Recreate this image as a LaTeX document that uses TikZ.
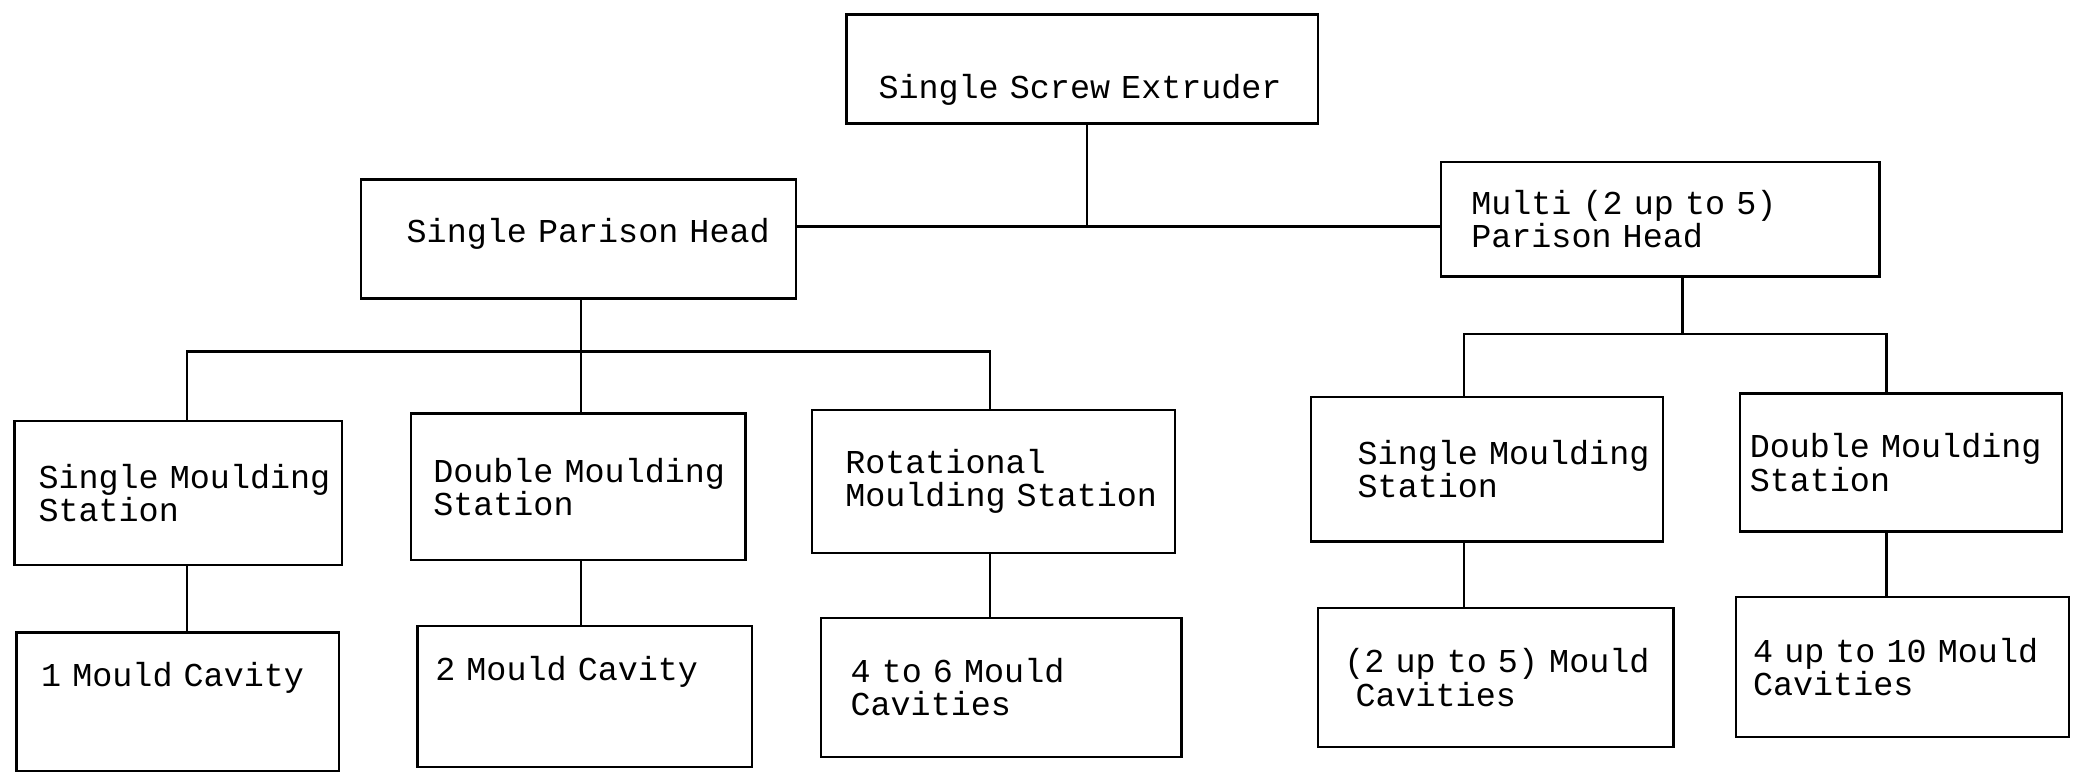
\documentclass[tikz,border=0pt]{standalone}
\usepackage{fontspec}
\newfontfamily\typewriter[HyphenChar=None]{Liberation Mono}
\newcommand\printerfont{\typewriter\fontsize{14.3pt}{14.2pt}\selectfont}

\begin{document}
\begin{tikzpicture}[line width=1pt, box/.style={draw, align=left, inner sep=0pt, font=\printerfont}]
        \useasboundingbox (0,0) rectangle (31.36,-11.66);

        \node[box, minimum width=7.09cm, minimum height=1.64cm, text width=6.13cm, text height=1.0cm] (ext) at (16.285,-1.04) {Single~Screw~Extruder};

        \node[box, minimum width=6.55cm, minimum height=1.79cm, text width=5.17cm, text depth=0.27cm] (sph) at (8.705,-3.595) {Single~Parison~Head};
        \node[box, minimum width=6.6cm, minimum height=1.72cm, text width=5.68cm] (multi) at (24.98,-3.3) {Multi~(2~up~to~5)\\Parison~Head};

        \node[box, minimum width=4.93cm, minimum height=2.16cm, text width=4.21cm] (sms1) at (2.685,-7.42) {Single~Moulding\\Station};
        \node[box, minimum width=5.04cm, minimum height=2.21cm, text width=4.36cm] (dms1) at (8.7,-7.325) {Double~Moulding\\Station};
        \node[box, minimum width=5.46cm, minimum height=2.15cm, text width=4.46cm] (rms) at (14.95,-7.245) {Rotational\\Moulding~Station};
        \node[box, minimum width=5.29cm, minimum height=2.18cm, text width=3.89cm] (sms2) at (22.375,-7.06) {Single~Moulding\\Station};
        \node[box, minimum width=4.85cm, minimum height=2.08cm, text width=4.55cm] (dms2) at (28.605,-6.96) {Double~Moulding\\Station};

        \node[box, minimum width=4.85cm, minimum height=2.08cm, text width=4.11cm, text depth=0.83cm] (c1) at (2.675,-10.56) {1~Mould~Cavity};
        \node[box, minimum width=5.04cm, minimum height=2.12cm, text width=4.5cm, text depth=0.83cm] (c2) at (8.8,-10.48) {2~Mould~Cavity};
        \node[box, minimum width=5.43cm, minimum height=2.09cm, text width=4.53cm] (c3) at (15.065,-10.345) {4~to~6~Mould\\Cavities};
        \node[box, minimum width=5.35cm, minimum height=2.09cm, text width=4.55cm] (c4) at (22.505,-10.197) {(2~up~to~5)~Mould\\~Cavities};
        \node[box, minimum width=5.01cm, minimum height=2.11cm, text width=4.49cm] (c5) at (28.625,-10.035) {4~up~to~10~Mould\\Cavities};

        \coordinate (top) at (16.36,-3.41);
        \coordinate (bl1) at (2.81,-5.29);
        \coordinate (bl2) at (8.74,-5.29);
        \coordinate (bl3) at (14.9,-5.29);
        \coordinate (br0) at (25.32,-5.03);
        \coordinate (br1) at (22.03,-5.03);
        \coordinate (br2) at (28.39,-5.03);

        \draw[-] (ext.south -| top) -- (top);
        \draw[-] (sph.east |- top) -- (multi.west |- top);

        \draw[-] (sph.south -| bl2) -- (bl2 |- dms1.north);
        \draw[-] (bl1 |- sms1.north) -- (bl1) -- (bl3) -- (bl3 |- rms.north);
        \draw[-] (sms1.south -| bl1) -- (c1.north -| bl1);
        \draw[-] (dms1.south -| bl2) -- (c2.north -| bl2);
        \draw[-] (rms.south -| bl3) -- (c3.north -| bl3);

        \draw[-] (multi.south -| br0) -- (br0);
        \draw[-] (br1 |- sms2.north) -- (br1) -- (br2) -- (br2 |- dms2.north);
        \draw[-] (sms2.south -| br1) -- (c4.north -| br1);
        \draw[-] (dms2.south -| br2) -- (c5.north -| br2);
    \end{tikzpicture}
\end{document}
